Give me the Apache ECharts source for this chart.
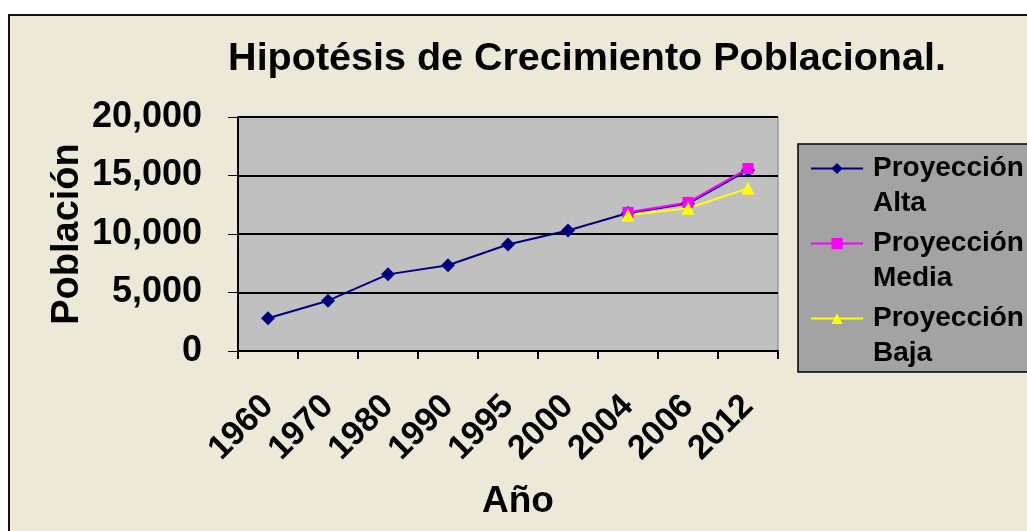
<!DOCTYPE html>
<html>
<head>
<meta charset="utf-8">
<script src="https://cdn.jsdelivr.net/npm/echarts@6/dist/echarts.min.js"></script>
<style>
html,body{margin:0;padding:0;background:#ffffff;width:1027px;height:531px;overflow:hidden;}
#frame{position:absolute;left:8px;top:14px;width:1100px;height:600px;background:#ECE9D8;border-left:2px solid #111;border-top:2px solid #111;}
#chart{position:absolute;left:0;top:0;width:1027px;height:531px;}
</style>
</head>
<body>
<div id="frame"></div>
<div id="chart"></div>
<script>
const years = ['1960','1970','1980','1990','1995','2000','2004','2006','2012'];
const alta  = [2800, 4300, 6550, 7330, 9100, 10300, 11800, 12600, 15450];
const media = [null, null, null, null, null, null, 11850, 12700, 15600];
const baja  = [null, null, null, null, null, null, 11600, 12200, 13900];
const seriesNames = ['Proyección Alta', 'Proyección Media', 'Proyección Baja'];
const yTicks = [0, 5000, 10000, 15000, 20000];

const F = 'Liberation Sans, Arial, sans-serif';
const chart = echarts.init(document.getElementById('chart'), null, {renderer:'canvas'});
chart.setOption({
  backgroundColor: 'transparent',
  animation: false,
  title: {
    text: 'Hipotésis de Crecimiento Poblacional.',
    left: 582, top: 34, textAlign: 'center',
    textStyle: {fontFamily:F, fontWeight:'bold', fontSize:39.5, color:'#000'}
  },
  graphic: {elements: [{
    type:'rect', z: 0, shape:{x:798, y:144, width:260, height:228},
    style:{fill:'#a3a3a3', stroke:'#000', lineWidth:1.5}
  }]},
  legend: {
    z: 10,
    orient:'vertical', left: 810, top: 116, padding: 0,
    itemWidth: 52, itemHeight: 14, itemGap: -30,
    data: seriesNames,
    formatter: n => '\n' + n.replace(' ', '\n'),
    textStyle: {fontFamily:F, fontWeight:'bold', fontSize:28, color:'#000', lineHeight:35, padding:[0,0,0,5]}
  },
  grid: {
    left: 238, right: 249, top: 117, bottom: 180,
    show: true, backgroundColor:'#c0c0c0', borderColor:'#808080', borderWidth:1
  },
  xAxis: {
    type:'category', data: years, boundaryGap: true,
    name:'Año', nameLocation:'middle', nameGap: 132,
    nameTextStyle:{fontFamily:F, fontWeight:'bold', fontSize:37, color:'#000', padding:[0,0,0,20]},
    axisLine:{lineStyle:{color:'#000', width:2}},
    axisTick:{show:true, interval:0, alignWithLabel:false, length:8, lineStyle:{color:'#000', width:2}},
    axisLabel:{interval:0, rotate:45, margin:50, fontFamily:F, fontWeight:'bold', fontSize:34, color:'#000'}
  },
  yAxis: {
    type:'value', min: yTicks[0], max: yTicks[yTicks.length-1], interval: 5000,
    name:'Población', nameLocation:'middle', nameGap: 151, nameMoveOverlap: false,
    nameTextStyle:{fontFamily:F, fontWeight:'bold', fontSize:38, color:'#000'},
    axisLine:{show:true, lineStyle:{color:'#000', width:2}},
    axisTick:{show:true, length:10, lineStyle:{color:'#000', width:1}},
    axisLabel:{margin:36, fontFamily:F, fontWeight:'bold', fontSize:36, color:'#000',
      formatter: v => v.toLocaleString('en-US')},
    splitLine:{lineStyle:{color:'#000', width:2}}
  },
  series: [
    {name: seriesNames[0], type:'line', data: alta, symbol:'diamond', symbolSize:14,
     lineStyle:{color:'#000080', width:2}, itemStyle:{color:'#000080'}},
    {name: seriesNames[1], type:'line', data: media, symbol:'rect', symbolSize:11,
     lineStyle:{color:'#ff00ff', width:2}, itemStyle:{color:'#ff00ff'}},
    {name: seriesNames[2], type:'line', data: baja, symbol:'triangle', symbolSize:13,
     lineStyle:{color:'#ffff00', width:2}, itemStyle:{color:'#ffff00'}}
  ]
});
</script>
</body>
</html>
